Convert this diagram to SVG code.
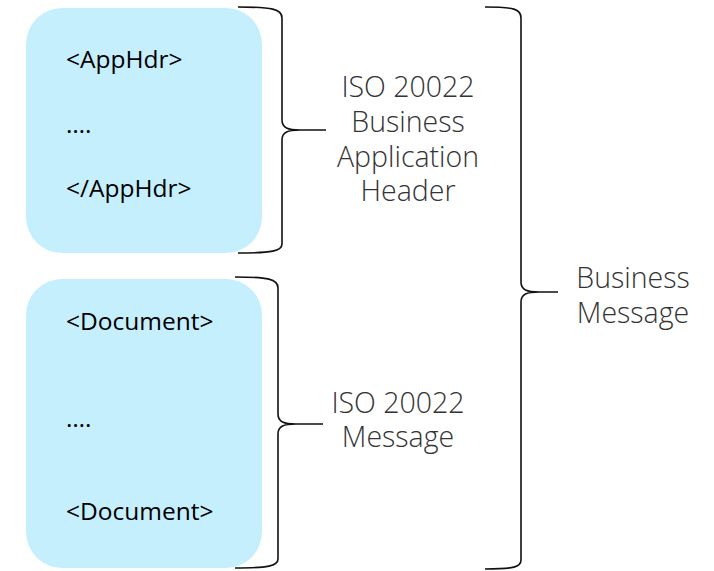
<svg xmlns="http://www.w3.org/2000/svg" width="714" height="571" viewBox="0 0 714 571">
<style>
.box{fill:#c6effe;}
.code{font-family:"Open Sans","Noto Sans",sans-serif;font-size:24.5px;fill:#000;}
.lbl{font-family:"Open Sans","Noto Sans",sans-serif;font-size:28.5px;font-weight:300;fill:#333;text-anchor:middle;}
.brace{fill:none;stroke:#111;stroke-width:1.6;}
</style>
<rect width="714" height="571" fill="#fff"/>
<g id="appHdr">
<rect class="box" x="26" y="8" width="236" height="245" rx="36"/>
<text class="code" x="66" y="68">&lt;AppHdr&gt;</text>
<text class="code" x="66" y="133">….</text>
<text class="code" x="66" y="197">&lt;/AppHdr&gt;</text>
</g>
<g id="document">
<rect class="box" x="26" y="279" width="236" height="289" rx="36"/>
<text class="code" x="66" y="330">&lt;Document&gt;</text>
<text class="code" x="66" y="427">….</text>
<text class="code" x="66" y="520">&lt;Document&gt;</text>
</g>
<g id="connectors">
<path class="brace" d="M238,7 C272,7 282,9 282,18 L282,120 C282,128 288,130 300,130 L326,130 M300,130 C288,130 282,132 282,140 L282,244 C282,251 272,253 238,253"/>
<path class="brace" d="M235,277 C268,277 278,279 278,288 L278,414 C278,422 284,424 296,424 L323,424 M296,424 C284,424 278,426 278,434 L278,559 C278,566 268,568 235,568"/>
<path class="brace" d="M485,7 C514,7 521,9 521,18 L521,282 C521,290 527,292 539,292 L558,292 M539,292 C527,292 521,294 521,302 L521,560 C521,567 514,569 485,569"/>
</g>
<g id="label-bah">
<text class="lbl" x="408" y="97">ISO 20022</text>
<text class="lbl" x="408" y="132">Business</text>
<text class="lbl" x="408" y="167">Application</text>
<text class="lbl" x="408" y="201">Header</text>
</g>
<g id="label-msg">
<text class="lbl" x="398" y="413">ISO 20022</text>
<text class="lbl" x="398" y="447">Message</text>
</g>
<g id="label-bm">
<text class="lbl" x="633" y="288">Business</text>
<text class="lbl" x="633" y="323">Message</text>
</g>
</svg>
